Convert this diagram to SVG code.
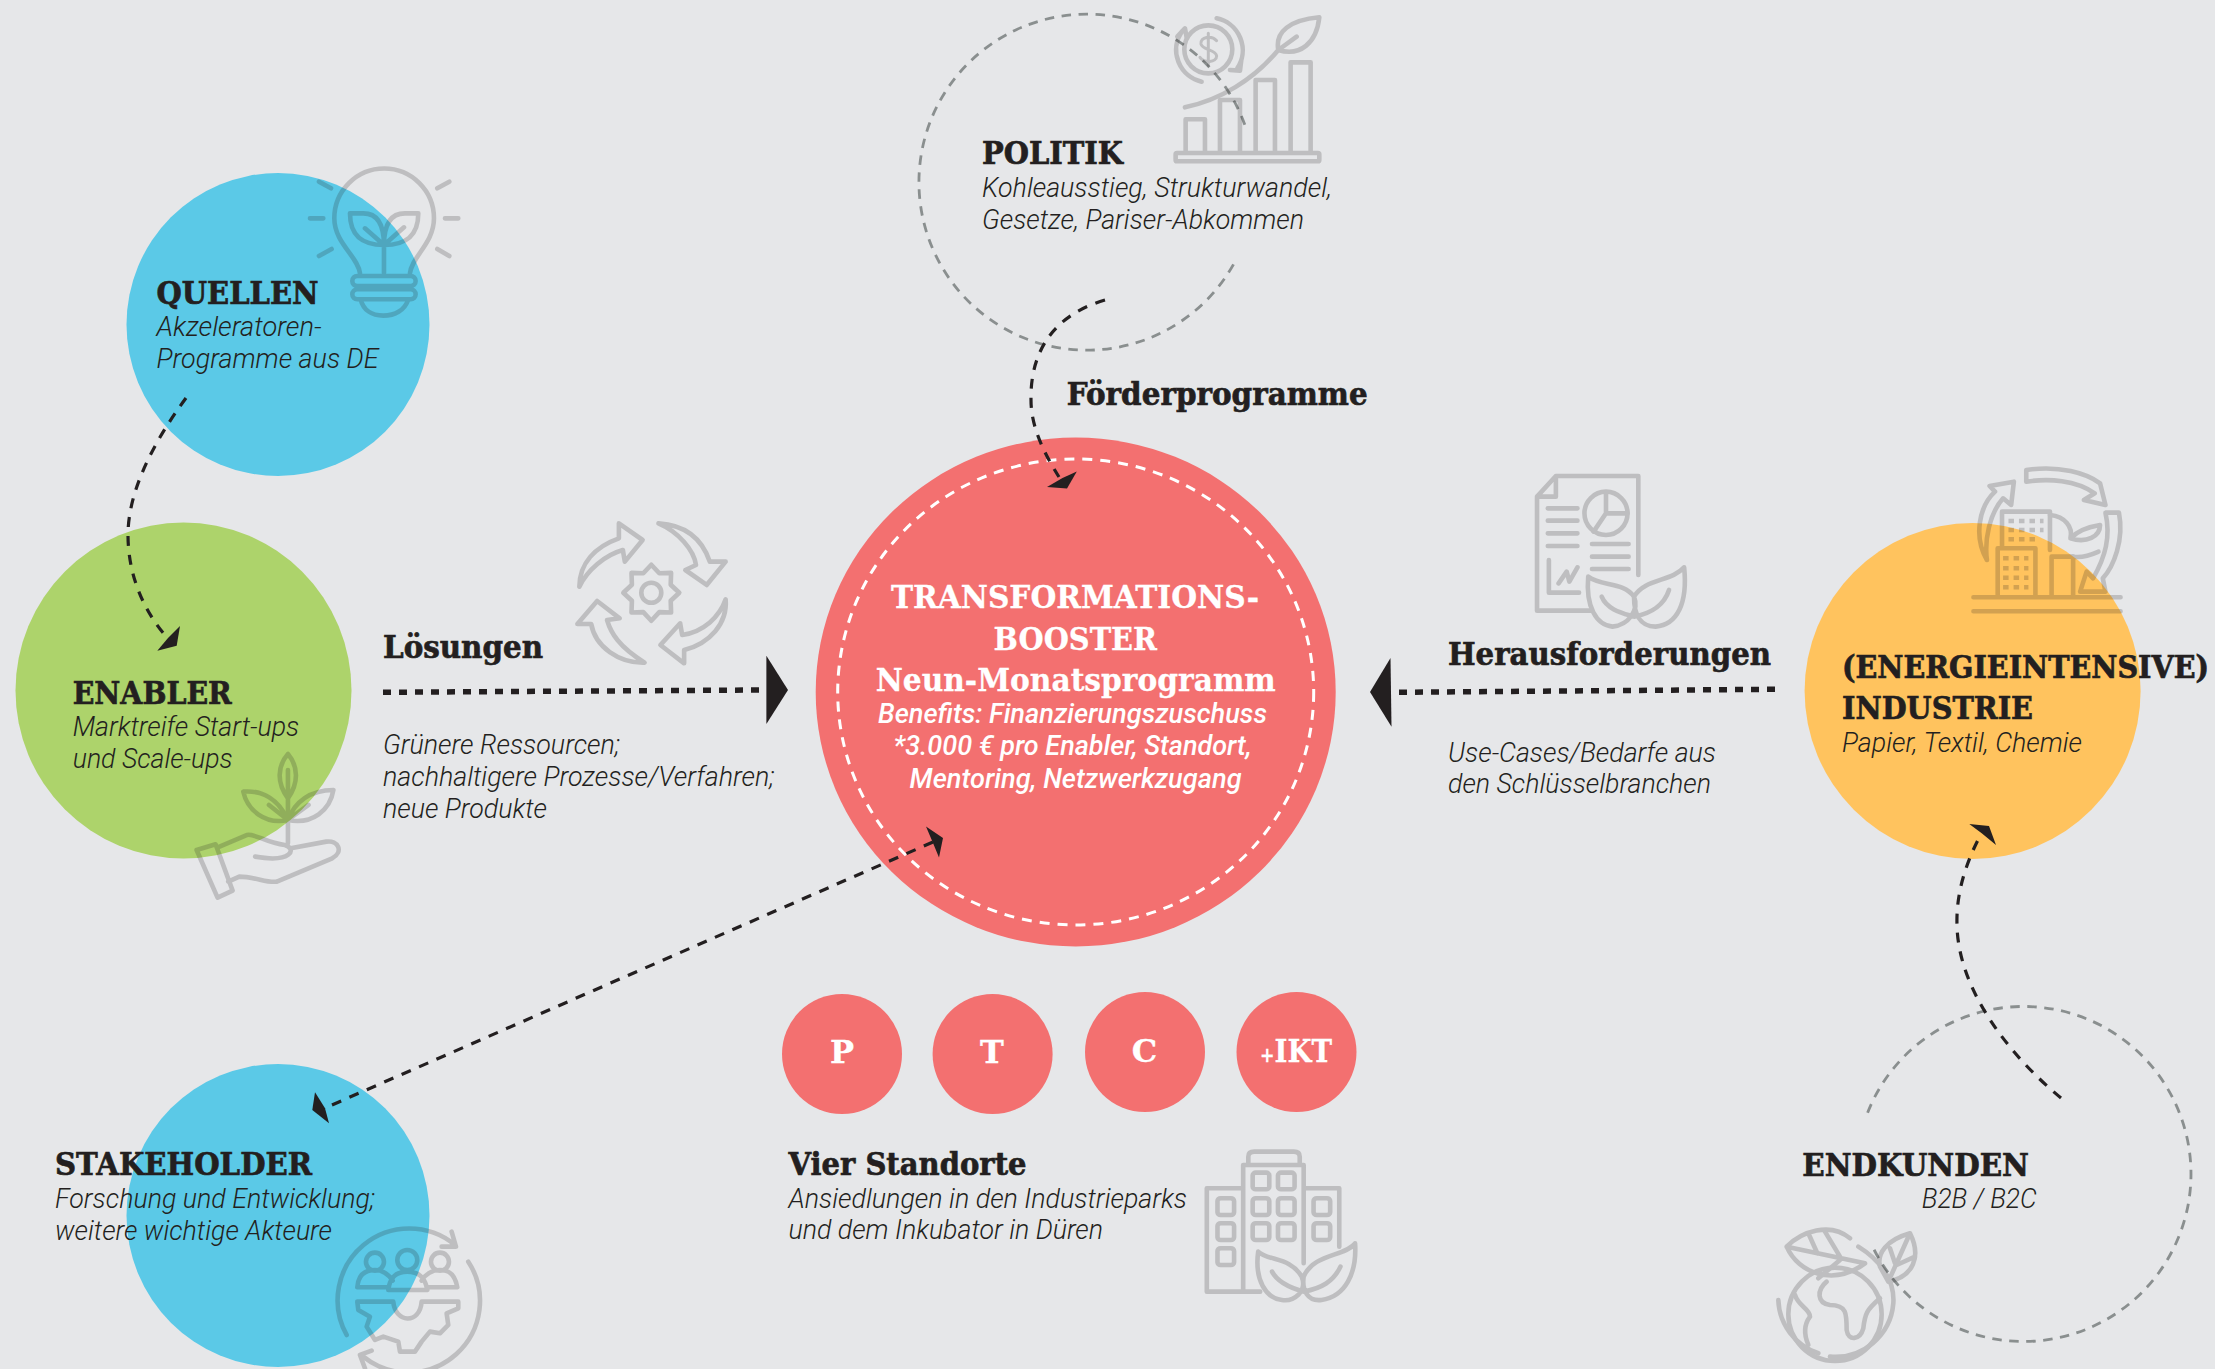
<svg xmlns="http://www.w3.org/2000/svg" width="2215" height="1369" viewBox="0 0 2215 1369">
<defs>
<style>
text{fill:#231f20}
.h{font-family:"DejaVu Serif","Liberation Serif",serif;font-weight:700;font-size:32px;stroke:#231f20;stroke-width:.7}
.hc{font-family:"DejaVu Serif Condensed","DejaVu Serif","Liberation Serif",serif;font-stretch:condensed}
.b{font-family:Roboto,"Liberation Sans",sans-serif;font-weight:300;font-style:italic;font-size:27px}
.w{fill:#fff;stroke:#fff;stroke-width:.3}
.bw{font-family:Roboto,"Liberation Sans",sans-serif;font-weight:500;font-style:italic;font-size:27px;fill:#fff}
.ic{fill:none;stroke:#231f20;stroke-width:4.6;stroke-linecap:round;stroke-linejoin:round;opacity:.2}
.ic *{vector-effect:non-scaling-stroke}
.ring{fill:none;stroke:#8a8f8f;stroke-width:2.8;stroke-dasharray:9.5 7.5}
.c{fill:none;stroke:#231f20;stroke-width:3.2;stroke-dasharray:10 9}
.t{fill:none;stroke:#231f20;stroke-width:5.5;stroke-dasharray:8 8}
.a{fill:#231f20}
</style>
</defs>
<rect width="2215" height="1369" fill="#e6e7e9"/>

<g id="node-quellen">
<circle cx="278" cy="324.5" r="151.5" fill="#5bc9e7"/>
<g class="ic" transform="translate(100 150) scale(.3333)">
<path d="M780,370C775,320 703,280 703,205A149.5,149.5 0 1 1 1002,205C1002,280 935,320 930,370"/>
<rect x="757" y="378" width="190" height="30" rx="15"/><rect x="757" y="418" width="190" height="30" rx="15"/>
<path d="M782,448C790,480 815,497 850,497C885,497 915,480 925,448"/>
<path d="M852,370V285M750,190H790C835,190 852,225 852,285C790,285 750,260 750,190ZM955,190H915C870,190 852,225 852,285C915,285 955,260 955,190ZM795,235L852,285L912,232"/>
<path d="M657,95L693,115M630,205H670M657,318L695,297M1012,115L1048,95M1035,205H1075M1012,297L1048,318"/>
</g>
<text class="h" x="156.5" y="303.5" textLength="162" lengthAdjust="spacingAndGlyphs">QUELLEN</text>
<text class="b" x="156.5" y="336" textLength="165" lengthAdjust="spacingAndGlyphs">Akzeleratoren-</text>
<text class="b" x="156.5" y="368" textLength="222" lengthAdjust="spacingAndGlyphs">Programme aus DE</text>
</g>

<g id="node-politik">
<path class="ring" d="M1244.8,124.7A168,168 0 1 0 1236.7,258.3"/>
<g class="ic" transform="translate(900 0) scale(.3333)">
<rect x="827" y="459" width="431" height="25" rx="4"/>
<path d="M857,455V358H915V455M960,455V300H1020V455M1067,455V240H1125V455M1172,455V187H1232V455"/>
<path d="M855,322C960,300 1060,240 1135,150C1125,95 1170,60 1258,52C1250,130 1200,170 1135,150L1190,110"/>
<circle cx="925" cy="148" r="72"/>
<path d="M950,55A98,98 0 0 1 1012,205M905,245A98,98 0 0 1 845,95M832,110L855,85L860,112M990,210L1020,212L1024,180"/>
<path d="M950,122C935,105 900,110 903,132C906,150 948,148 950,168C950,188 912,190 900,172M925,100V196" stroke-width="3"/>
</g>
<text class="h" x="982" y="163.5" textLength="141" lengthAdjust="spacingAndGlyphs">POLITIK</text>
<text class="b" x="982" y="196.5" textLength="350" lengthAdjust="spacingAndGlyphs">Kohleausstieg, Strukturwandel,</text>
<text class="b" x="982" y="229" textLength="322" lengthAdjust="spacingAndGlyphs">Gesetze, Pariser-Abkommen</text>
</g>

<g id="label-foerderprogramme">
<text class="h" x="1066.7" y="405" textLength="301" lengthAdjust="spacingAndGlyphs">Förderprogramme</text>
</g>

<g id="node-enabler">
<circle cx="183.5" cy="690.5" r="168" fill="#add36b"/>
<g class="ic" transform="translate(180 500) scale(.3954 .3333)">
<path d="M273,762C245,800 245,850 273,895C300,850 300,800 273,762ZM273,810V1030"/>
<path d="M160,875C210,870 250,900 273,960C215,975 170,930 160,875ZM225,915L273,960M388,870C330,870 290,905 273,960C335,975 380,930 388,870ZM325,915L273,960"/>
<path d="M42,1050L90,1033L133,1172L95,1193ZM100,1040L170,1005C190,1000 220,1030 265,1035C295,1045 285,1090 190,1070M280,1045L370,1025C400,1020 415,1055 385,1075L245,1145C220,1150 190,1130 150,1130L122,1145"/>
</g>
<text class="h" x="72.7" y="704" textLength="159" lengthAdjust="spacingAndGlyphs">ENABLER</text>
<text class="b" x="72.7" y="736" textLength="226.5" lengthAdjust="spacingAndGlyphs">Marktreife Start-ups</text>
<text class="b" x="72.7" y="767.7" textLength="160" lengthAdjust="spacingAndGlyphs">und Scale-ups</text>
</g>

<g id="label-loesungen">
<g class="ic" transform="translate(180 500) scale(.3954 .3333)">
<path d="M1010,260C1010,190 1050,140 1110,115L1110,70L1170,120L1125,185L1120,150C1075,165 1030,210 1010,260Z"/>
<path d="M1210,70C1280,75 1320,115 1340,185L1380,185L1332,255L1278,210L1305,195C1300,150 1260,95 1210,70Z"/>
<path d="M1380,298C1385,370 1340,430 1275,450L1275,490L1215,435L1265,370L1270,405C1325,395 1365,350 1380,298Z"/>
<path d="M1175,488C1110,490 1050,440 1040,372L1005,372L1055,303L1112,355L1080,360C1090,400 1110,440 1175,488Z"/>
</g>
<g class="ic" transform="translate(651.3 592.7)">
<polygon points="28,0 19.4,8 19.8,19.8 8,19.4 0,28 -8,19.4 -19.8,19.8 -19.4,8 -28,0 -19.4,-8 -19.8,-19.8 -8,-19.4 0,-28 8,-19.4 19.8,-19.8 19.4,-8"/>
<circle r="10"/>
</g>
<text class="h" x="383" y="657.7" textLength="160" lengthAdjust="spacingAndGlyphs">Lösungen</text>
<text class="b" x="383" y="754" textLength="237" lengthAdjust="spacingAndGlyphs">Grünere Ressourcen;</text>
<text class="b" x="383" y="785.7" textLength="391.5" lengthAdjust="spacingAndGlyphs">nachhaltigere Prozesse/Verfahren;</text>
<text class="b" x="383" y="817.7" textLength="164" lengthAdjust="spacingAndGlyphs">neue Produkte</text>
</g>

<g id="node-booster">
<ellipse cx="1075.7" cy="692" rx="260" ry="254.5" fill="#f37070"/>
<ellipse cx="1075.7" cy="692" rx="238" ry="233" fill="none" stroke="#fff" stroke-width="3" stroke-dasharray="10 8"/>
<text class="h w" x="891" y="608.3" textLength="368" lengthAdjust="spacingAndGlyphs">TRANSFORMATIONS-</text>
<text class="h w" x="993.6" y="650" textLength="163.5" lengthAdjust="spacingAndGlyphs">BOOSTER</text>
<text class="h w" x="875.7" y="691" textLength="400" lengthAdjust="spacingAndGlyphs">Neun-Monatsprogramm</text>
<text class="bw" x="878" y="723" textLength="389" lengthAdjust="spacingAndGlyphs">Benefits: Finanzierungszuschuss</text>
<text class="bw" x="893.6" y="755" textLength="358" lengthAdjust="spacingAndGlyphs">*3.000 € pro Enabler, Standort,</text>
<text class="bw" x="909.6" y="787.6" textLength="332" lengthAdjust="spacingAndGlyphs">Mentoring, Netzwerkzugang</text>
</g>

<g id="label-herausforderungen">
<g class="ic" transform="translate(1370 450) scale(.5388 .3333)">
<path d="M410,482H310V140L345,78H498V375M345,78V140H310"/>
<path d="M330,175H385M330,212H385M330,250H385M330,288H385M412,282H480M412,320H480M412,357H480"/>
<ellipse cx="438" cy="190" rx="40" ry="65"/>
<path d="M438,128V190H478M438,190L415,245M332,330V428H388M350,400L365,365L370,395L385,352"/>
<path d="M405,380C430,410 470,395 490,440C500,480 480,525 450,530C420,525 400,470 405,380ZM583,352C560,395 510,385 490,440C490,490 500,530 530,530C570,525 590,460 583,352ZM430,440C440,480 470,490 490,500C520,490 545,470 555,420"/>
</g>
<text class="h" x="1448" y="665" textLength="323" lengthAdjust="spacingAndGlyphs">Herausforderungen</text>
<text class="b" x="1448" y="761.7" textLength="268" lengthAdjust="spacingAndGlyphs">Use-Cases/Bedarfe aus</text>
<text class="b" x="1448" y="793.3" textLength="263" lengthAdjust="spacingAndGlyphs">den Schlüsselbranchen</text>
</g>

<g id="node-industrie">
<circle cx="1972.6" cy="691" r="168" fill="#ffc35e"/>
<g class="ic" transform="translate(1370 450) scale(.5388 .3333)">
<path d="M1120,442H1393M1120,484H1393"/>
<path d="M1173,290V185H1262V300M1165,435V295H1235V435M1265,435V320H1305V435"/>
<path d="M1262,195C1290,200 1305,230 1300,265C1315,240 1335,230 1355,225C1355,260 1330,280 1300,265M1305,320C1325,325 1345,310 1352,305"/>
<path d="M1218,95V60C1280,45 1330,70 1355,100L1365,165L1325,150L1345,130C1310,90 1260,85 1218,95Z"/>
<path d="M1145,330C1120,260 1130,170 1160,125L1150,108L1195,95L1190,165L1175,145C1150,190 1140,270 1145,330Z"/>
<path d="M1365,188H1390C1400,270 1380,350 1360,385L1365,425H1318L1330,365L1342,385C1365,320 1375,260 1365,188Z"/>
<path d="M1185,213H1250M1185,240H1250M1185,268H1235M1175,325H1222M1175,355H1222M1175,383H1222M1175,412H1222" stroke-dasharray="5.5 5" stroke-linecap="butt" stroke-width="4.5"/>
</g>
<text class="h hc" x="1842" y="678.3" textLength="367" lengthAdjust="spacingAndGlyphs">(ENERGIEINTENSIVE)</text>
<text class="h" x="1842" y="719.3" textLength="191" lengthAdjust="spacingAndGlyphs">INDUSTRIE</text>
<text class="b" x="1842" y="751.7" textLength="240" lengthAdjust="spacingAndGlyphs">Papier, Textil, Chemie</text>
</g>

<g id="node-stakeholder">
<circle cx="278" cy="1215.5" r="151.5" fill="#5bc9e7"/>
<g class="ic" transform="translate(0 1040) scale(.3333)">
<path d="M1040,885A215,215 0 0 1 1365,615M1355,575L1368,620L1325,620M1405,665A215,215 0 0 1 1090,950M1115,932L1080,945L1095,985"/>
<circle cx="1125" cy="665" r="27"/><circle cx="1222" cy="660" r="30"/><circle cx="1320" cy="665" r="27"/>
<path d="M1072,742C1075,700 1100,690 1125,690C1155,690 1170,710 1178,722M1165,750C1170,710 1190,695 1222,695C1255,695 1275,710 1282,750ZM1265,722C1275,705 1295,690 1320,690C1345,690 1365,700 1372,742H1282M1072,742H1165"/>
<path d="M1072,785H1180C1185,850 1260,855 1265,785H1375V805L1340,820L1345,855L1320,880L1290,875L1265,905L1245,935H1200L1195,905L1150,890L1125,900L1100,860L1110,830L1075,810Z"/>
</g>
<text class="h" x="55" y="1175" textLength="257" lengthAdjust="spacingAndGlyphs">STAKEHOLDER</text>
<text class="b" x="55" y="1207.7" textLength="320" lengthAdjust="spacingAndGlyphs">Forschung und Entwicklung;</text>
<text class="b" x="55" y="1240" textLength="277" lengthAdjust="spacingAndGlyphs">weitere wichtige Akteure</text>
</g>

<g id="node-p"><circle cx="842" cy="1054" r="60" fill="#f37070"/><text class="h w" x="842" y="1063.3" text-anchor="middle">P</text></g>
<g id="node-t"><circle cx="992.6" cy="1054" r="60" fill="#f37070"/><text class="h w" x="992" y="1063.3" text-anchor="middle">T</text></g>
<g id="node-c"><circle cx="1145" cy="1052" r="60" fill="#f37070"/><text class="h w" x="1144.6" y="1061.7" text-anchor="middle">C</text></g>
<g id="node-ikt"><circle cx="1296.5" cy="1052" r="60" fill="#f37070"/><text class="h w" x="1260" y="1061.7" textLength="72" lengthAdjust="spacingAndGlyphs"><tspan font-size="20">+</tspan>IKT</text></g>

<g id="node-standorte">
<g class="ic" transform="translate(760 980) scale(.3954 .3333)">
<path d="M1222,625H1130V935H1265M1222,625V930M1222,625V555H1375V850M1235,550V530Q1235,515 1250,515H1350Q1365,515 1365,530V550M1380,625H1465V800"/>
<rect x="1246" y="578" width="42" height="50" rx="8"/><rect x="1310" y="578" width="42" height="50" rx="8"/>
<rect x="1246" y="655" width="42" height="50" rx="8"/><rect x="1310" y="655" width="42" height="50" rx="8"/>
<rect x="1246" y="730" width="42" height="50" rx="8"/><rect x="1310" y="730" width="42" height="50" rx="8"/>
<rect x="1157" y="655" width="42" height="50" rx="8"/><rect x="1157" y="730" width="42" height="50" rx="8"/><rect x="1157" y="805" width="42" height="50" rx="8"/>
<rect x="1400" y="655" width="42" height="50" rx="8"/><rect x="1400" y="730" width="42" height="50" rx="8"/>
<path d="M1260,815C1290,845 1340,830 1370,890C1385,935 1350,965 1320,960C1280,955 1250,900 1260,815ZM1505,790C1480,830 1400,820 1375,890C1370,930 1385,965 1420,960C1480,950 1510,880 1505,790ZM1295,875C1310,910 1345,925 1375,935C1420,925 1450,905 1468,860"/>
</g>
<text class="h" x="788.5" y="1175" textLength="238" lengthAdjust="spacingAndGlyphs">Vier Standorte</text>
<text class="b" x="788.5" y="1207.7" textLength="398.5" lengthAdjust="spacingAndGlyphs">Ansiedlungen in den Industrieparks</text>
<text class="b" x="788.5" y="1239.3" textLength="314.5" lengthAdjust="spacingAndGlyphs">und dem Inkubator in Düren</text>
</g>

<g id="node-endkunden">
<path class="ring" d="M1867.6,1112.7A167.5,167.5 0 1 1 1872.5,1246.5"/>
<g class="ic" transform="translate(1740 980) scale(.3333)">
<circle cx="285" cy="1003" r="140"/>
<path d="M115,960A175,175 0 0 0 235,1120M270,1130A175,175 0 0 0 460,970C465,900 420,840 355,800"/>
<path d="M330,775C270,725 185,755 140,800C175,880 280,920 375,850L140,800M205,760L232,820M255,755L300,830M300,840L235,895"/>
<path d="M445,905C520,890 545,830 510,760C440,780 410,820 420,860L445,905L510,760M450,805L465,850M470,855L525,830"/>
<path d="M260,905C230,930 230,970 270,975C320,975 320,1000 320,1050C325,1085 360,1080 370,1045C375,1000 380,990 420,955M165,945C175,980 210,985 210,1010C195,1030 190,1060 205,1095"/>
</g>
<text class="h" x="1802.3" y="1175.7" textLength="226.7" lengthAdjust="spacingAndGlyphs">ENDKUNDEN</text>
<text class="b" x="1921.7" y="1207.7" textLength="115" lengthAdjust="spacingAndGlyphs">B2B / B2C</text>
</g>

<g id="connectors">
<path class="c" d="M186,398C155,440 128,490 128,535C128,570 140,605 164,634"/>
<polygon class="a" points="180,626 176.7,645.7 157.3,650.7 168,638"/>
<path class="c" d="M1105,300C1060,313 1030,345 1031,400C1031,425 1042,450 1059,477"/>
<polygon class="a" points="1076.8,471.4 1067,488.6 1047,487 1062.5,478"/>
<path class="c" d="M933,842L325,1108"/>
<polygon class="a" points="926,826.6 943,838 939,857.6 933,843"/>
<polygon class="a" points="315,1092.3 312.3,1110 329,1123.3 325,1108.3"/>
<path class="c" d="M2061,1098C2010,1056 1958,990 1957,925C1956,895 1965,865 1979,838"/>
<polygon class="a" points="1969.3,824 1989,826 1996,845 1981.7,833.3"/>
<path class="t" d="M383,692.3L760,690"/>
<polygon class="a" points="766.4,655.7 766.4,724 788,690"/>
<path class="t" d="M1775,689.3L1398,692.3"/>
<polygon class="a" points="1370,692 1390.5,658 1391.5,726.7"/>
</g>
</svg>
